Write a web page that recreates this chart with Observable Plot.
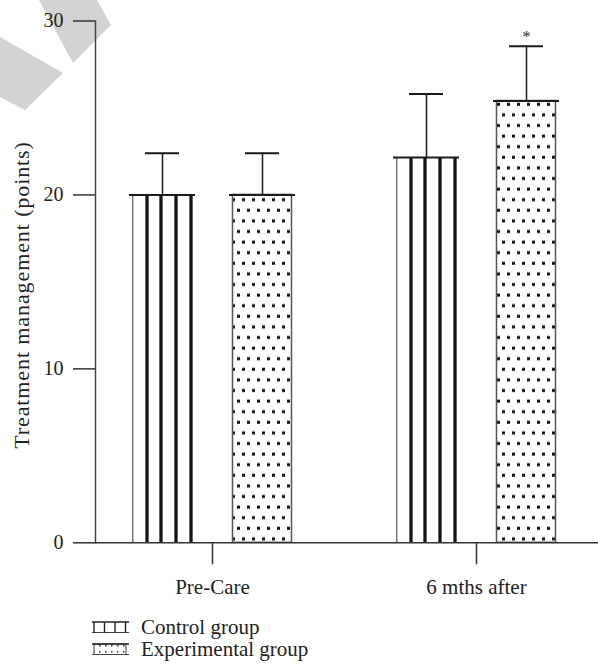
<!DOCTYPE html>
<html><head><meta charset="utf-8">
<script src="https://cdn.jsdelivr.net/npm/d3@7"></script>
<script src="https://cdn.jsdelivr.net/npm/@observablehq/plot@0.6"></script>
<style>
body{margin:0;background:#fff;font-family:"Liberation Serif",serif;}
#wrap{position:relative;width:598px;height:667px;overflow:hidden;}
.wm{position:absolute;left:0;top:0;width:130px;height:130px;background:#d3d3d3;}
#chart{position:absolute;left:0;top:0;}
.leg{position:absolute;left:92px;font-size:21px;color:#222;display:flex;align-items:center;white-space:nowrap;}
.leg svg{margin-right:11px;}
</style></head><body>
<svg width="0" height="0" style="position:absolute">
  <defs>
    <pattern id="stripes" patternUnits="objectBoundingBox" width="1" height="1" patternContentUnits="objectBoundingBox">
      <rect x="0" y="0" width="1" height="1" fill="#fff"/>
      <rect x="0.0447" y="0" width="0.0227" height="1" fill="#777"/>
      <rect x="0.2477" y="0" width="0.05" height="1" fill="#151515"/>
      <rect x="0.4598" y="0" width="0.05" height="1" fill="#151515"/>
      <rect x="0.6871" y="0" width="0.05" height="1" fill="#151515"/>
      <rect x="0.9144" y="0" width="0.05" height="1" fill="#151515"/>
    </pattern>
    <pattern id="dots" patternUnits="userSpaceOnUse" width="10" height="21.2">
      <rect x="0" y="0" width="10" height="21.2" fill="#fff"/>
      <rect x="7" y="18" width="3" height="3" fill="#111"/>
      <rect x="2" y="7.4" width="3" height="3" fill="#111"/>
    </pattern>
    <pattern id="dotsSmall" patternUnits="userSpaceOnUse" width="6" height="6">
      <rect x="0" y="0" width="6" height="6" fill="#fff"/>
      <rect x="1" y="2" width="1.5" height="1.5" fill="#333"/>
    </pattern>
  </defs>
</svg>
<div id="wrap">
  <div class="wm" style="clip-path:polygon(39px 0,97px 0,111px 25px,73px 63px)"></div>
  <div class="wm" style="clip-path:polygon(0 37px,63px 73px,25px 110px,0 97px)"></div>
  <div id="chart"></div>
  <div class="leg" style="top:615px">
    <svg width="38" height="13">
      <line x1="0" y1="1" x2="37" y2="1" stroke="#222" stroke-width="1.6"/>
      <line x1="0" y1="11.5" x2="37" y2="11.5" stroke="#444" stroke-width="1.2"/>
      <line x1="2" y1="1" x2="2" y2="12" stroke="#222" stroke-width="1.4"/>
      <line x1="12.5" y1="1" x2="12.5" y2="12" stroke="#222" stroke-width="1.4"/>
      <line x1="23" y1="1" x2="23" y2="12" stroke="#222" stroke-width="1.4"/>
      <line x1="33.5" y1="1" x2="33.5" y2="12" stroke="#222" stroke-width="1.4"/>
    </svg>
    <span id="leg0"></span>
  </div>
  <div class="leg" style="top:637px">
    <svg width="38" height="13">
      <rect x="2" y="1" width="32" height="10.5" fill="url(#dotsSmall)" stroke="#444" stroke-width="1"/>
      <line x1="0" y1="1" x2="37" y2="1" stroke="#222" stroke-width="1.4"/>
      <line x1="0" y1="11.5" x2="37" y2="11.5" stroke="#444" stroke-width="1.2"/>
    </svg>
    <span id="leg1"></span>
  </div>
</div>
<script>
const times = ["Pre-Care", "6 mths after"];
const groups = ["Control group", "Experimental group"];
const controlMean = [20.0, 22.15];
const controlSD = [2.4, 3.65];
const experimentalMean = [20.0, 25.4];
const experimentalSD = [2.4, 3.15];
const experimentalSig = ["", "*"];
const yTicks = [0, 10, 20, 30];
const yLabel = "Treatment management (points)";

const ctrl = times.map((t, i) => ({time: t, value: controlMean[i], upper: controlMean[i] + controlSD[i]}));
const exp = times.map((t, i) => ({time: t, value: experimentalMean[i], upper: experimentalMean[i] + experimentalSD[i], sig: experimentalSig[i]}));

document.getElementById("leg0").textContent = groups[0];
document.getElementById("leg1").textContent = groups[1];

const ink = "#1a1a1a";
const plot = Plot.plot({
  width: 598,
  height: 605,
  marginLeft: 95,
  marginRight: 0,
  marginTop: 20.5,
  marginBottom: 62.7,
  style: {fontFamily: "Liberation Serif, serif", fontSize: "20px", color: "#222", background: "transparent", overflow: "visible"},
  x: {domain: times, paddingInner: 0.75094, paddingOuter: 0.32453, align: 0.4826},
  y: {domain: [0, 30]},
  marks: [
    Plot.barY(ctrl, {x: "time", y: "value", dx: -50, fill: "url(#stripes)"}),
    Plot.barY(exp, {x: "time", y: "value", dx: 50, fill: "url(#dots)", stroke: "#555", strokeWidth: 1.5, insetLeft: 3.5, insetRight: 3.5}),
    Plot.tickY(ctrl, {x: "time", y: "value", dx: -50, stroke: ink, strokeWidth: 2}),
    Plot.tickY(exp, {x: "time", y: "value", dx: 50, stroke: ink, strokeWidth: 2}),
    Plot.ruleX(ctrl, {x: "time", y1: "value", y2: "upper", dx: -50, stroke: ink, strokeWidth: 1.5}),
    Plot.ruleX(exp, {x: "time", y1: "value", y2: "upper", dx: 50, stroke: ink, strokeWidth: 1.5}),
    Plot.tickY(ctrl, {x: "time", y: "upper", dx: -50, insetLeft: 16, insetRight: 16, stroke: ink, strokeWidth: 2}),
    Plot.tickY(exp, {x: "time", y: "upper", dx: 50, insetLeft: 16, insetRight: 16, stroke: ink, strokeWidth: 2}),
    Plot.text(exp, {x: "time", y: "upper", text: "sig", dx: 50, dy: -10, fontSize: 17, fill: "#333"}),
    Plot.ruleY([0], {stroke: "#333", strokeWidth: 1.5}),
    Plot.frame({anchor: "left", stroke: "#444", strokeWidth: 1.5}),
    Plot.axisY({ticks: yTicks, tickFormat: d => String(d), tickSize: 22, tickPadding: 10, fontSize: 20, stroke: "#333", strokeWidth: 1.5, label: null}),
    Plot.axisX({tickSize: 22, tickPadding: 14, fontSize: 21, stroke: "#333", strokeWidth: 1.5, label: null})
  ]
});
// y-axis title, positioned like the reference
d3.select(plot).append("text")
  .attr("transform", "translate(28.5,295) rotate(-90)")
  .attr("text-anchor", "middle")
  .attr("font-size", 22)
  .attr("letter-spacing", "0.9px")
  .attr("fill", "#222")
  .text(yLabel);
document.getElementById("chart").appendChild(plot);
</script>
</body></html>
